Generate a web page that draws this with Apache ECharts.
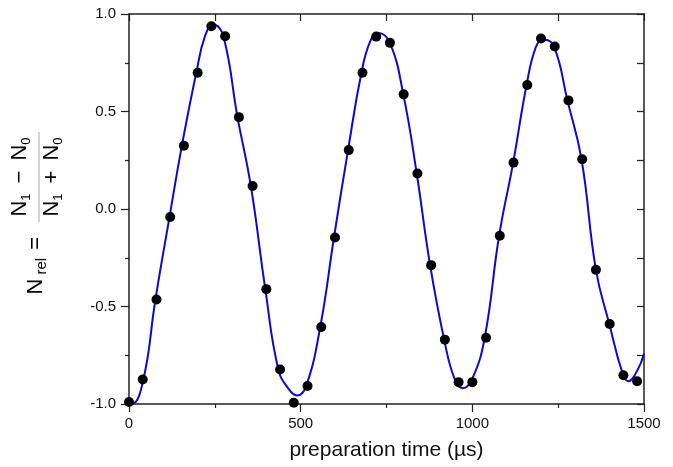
<!DOCTYPE html>
<html>
<head>
<meta charset="utf-8">
<title>Ramsey fringes</title>
<script src="https://cdn.jsdelivr.net/npm/echarts@6/dist/echarts.min.js"></script>
<style>
    html, body { margin: 0; padding: 0; background: #fff; }
    #chart { width: 673px; height: 467px; }
</style>
</head>
<body>
<div id="chart"></div>
<script>
// measured points (preparation time in µs, N_rel)
var prepTime = [0, 40, 80, 120, 160, 200, 240, 280, 320, 360, 400, 440, 480, 520, 560, 600, 640, 680, 720, 760,
    800, 840, 880, 920, 960, 1000, 1040, 1080, 1120, 1160, 1200, 1240, 1280, 1320, 1360, 1400, 1440, 1480];
var nRel = [-0.99, -0.874, -0.464, -0.041, 0.325, 0.699, 0.937, 0.886, 0.471, 0.118, -0.411, -0.823, -0.994, -0.908,
    -0.605, -0.146, 0.302, 0.699, 0.884, 0.852, 0.588, 0.182, -0.288, -0.670, -0.888, -0.888, -0.660, -0.137,
    0.238, 0.636, 0.874, 0.833, 0.557, 0.255, -0.312, -0.590, -0.853, -0.883];

// fit curve
var fitTime = [0, 10, 42, 77, 118, 154, 196, 222, 246, 275, 316, 355, 397, 435, 466, 489, 516, 557, 597, 638, 677,
    703, 726, 760, 799, 838, 877, 918, 948, 972, 1000, 1036, 1078, 1119, 1158, 1185, 1207, 1238, 1277, 1318, 1360,
    1399, 1438, 1454, 1480, 1500];
var fitValue = [-0.992, -0.997, -0.874, -0.464, -0.041, 0.325, 0.699, 0.89, 0.946, 0.886, 0.471, 0.118, -0.411,
    -0.823, -0.925, -0.956, -0.908, -0.605, -0.146, 0.302, 0.699, 0.862, 0.903, 0.852, 0.588, 0.182, -0.288, -0.670,
    -0.87, -0.919, -0.87, -0.660, -0.137, 0.238, 0.636, 0.83, 0.869, 0.833, 0.557, 0.255, -0.312, -0.590, -0.845,
    -0.883, -0.83, -0.742];

var xTicks = { min: 0, max: 1500, major: 500, frame: 250 };
var yTicks = { min: -1, max: 1, major: 0.5, frame: 0.25 };

var FONT = 'Liberation Sans, Arial, Helvetica, sans-serif';
var INK = '#222';

function zip(a, b) {
    var out = [];
    for (var i = 0; i < a.length; i++) {
        out.push([a[i], b[i]]);
    }
    return out;
}

var chart = echarts.init(document.getElementById('chart'));

// rich styles for the rotated y-axis title
var rich = {
    n: { fontSize: 22, fontFamily: FONT, color: '#111', lineHeight: 26, verticalAlign: 'middle' },
    s: { fontSize: 13, fontFamily: FONT, color: '#111', lineHeight: 20, verticalAlign: 'bottom' },
    r: { fontSize: 15, fontFamily: FONT, color: '#111', lineHeight: 9, verticalAlign: 'bottom', padding: [0, 0, 0, 4] },
    op: { fontSize: 22, fontFamily: FONT, color: '#111', lineHeight: 26, verticalAlign: 'middle', padding: [0, 10, 0, 10] },
    eq: { fontSize: 22, fontFamily: FONT, color: '#111', lineHeight: 26, verticalAlign: 'middle', padding: [0, 0, 0, 8] }
};

chart.setOption({
    backgroundColor: '#fff',
    animation: false,
    grid: { left: 129, right: 29, top: 14, bottom: 63 },
    xAxis: [{
        type: 'value',
        position: 'bottom',
        min: xTicks.min,
        max: xTicks.max,
        interval: xTicks.major,
        name: 'preparation time (µs)',
        nameLocation: 'middle',
        nameGap: 36,
        nameTextStyle: { fontSize: 21, fontFamily: FONT, color: '#111' },
        axisLine: { onZero: false, lineStyle: { color: INK, width: 1.5 } },
        axisTick: { inside: false, length: 8, lineStyle: { color: INK, width: 1.2 } },
        minorTick: { show: true, splitNumber: 2, length: 4, lineStyle: { color: INK, width: 1.2 } },
        axisLabel: {
            margin: 12, fontSize: 15, fontFamily: FONT, color: '#111',
            formatter: function(v) { return String(v); }
        },
        splitLine: { show: false }
    }, {
        type: 'value',
        position: 'top',
        min: xTicks.min,
        max: xTicks.max,
        interval: xTicks.frame,
        axisLine: { show: true, onZero: false, lineStyle: { color: INK, width: 1.5 } },
        axisTick: { inside: true, length: 7, lineStyle: { color: INK, width: 1.2 } },
        axisLabel: { show: false },
        splitLine: { show: false }
    }],
    yAxis: [{
        type: 'value',
        position: 'left',
        min: yTicks.min,
        max: yTicks.max,
        interval: yTicks.major,
        axisLine: { show: true, onZero: false, lineStyle: { color: INK, width: 1.5 } },
        axisTick: { show: true, inside: false, length: 8, lineStyle: { color: INK, width: 1.2 } },
        minorTick: { show: true, splitNumber: 2, length: 4, lineStyle: { color: INK, width: 1.2 } },
        axisLabel: {
            margin: 13, fontSize: 15, fontFamily: FONT, color: '#111',
            formatter: function(v) { return v.toFixed(1); }
        },
        splitLine: { show: false }
    }, {
        type: 'value',
        position: 'right',
        min: yTicks.min,
        max: yTicks.max,
        interval: yTicks.frame,
        axisLine: { show: true, onZero: false, lineStyle: { color: INK, width: 1.5 } },
        axisTick: { show: true, inside: true, length: 7, lineStyle: { color: INK, width: 1.2 } },
        axisLabel: { show: false },
        splitLine: { show: false }
    }],
    graphic: [{
        type: 'group',
        x: 39,
        y: 177,
        rotation: Math.PI / 2,
        children: [{
            type: 'line',
            shape: { x1: -45, y1: 0, x2: 45, y2: 0 },
            style: { stroke: '#aaa', lineWidth: 1 }
        }, {
            type: 'text',
            x: 0,
            y: -19,
            style: {
                text: '{n|N}{s|1}{op|−}{n|N}{s|0}', rich: rich,
                align: 'center', verticalAlign: 'middle', textAlign: 'center', textVerticalAlign: 'middle'
            }
        }, {
            type: 'text',
            x: 0,
            y: 13,
            style: {
                text: '{n|N}{s|1}{op|+}{n|N}{s|0}', rich: rich,
                align: 'center', verticalAlign: 'middle', textAlign: 'center', textVerticalAlign: 'middle'
            }
        }, {
            type: 'text',
            x: -60,
            y: -3,
            style: {
                text: '{n|N}{r|rel}{eq|=}', rich: rich,
                align: 'right', verticalAlign: 'middle', textAlign: 'right', textVerticalAlign: 'middle'
            }
        }]
    }],
    series: [{
        name: 'fit',
        type: 'line',
        data: zip(fitTime, fitValue),
        smooth: 0.45,
        showSymbol: false,
        symbol: 'none',
        lineStyle: { color: '#0a0ad2', width: 2 },
        z: 2
    }, {
        name: 'data',
        type: 'scatter',
        data: zip(prepTime, nRel),
        symbolSize: 10,
        clip: false,
        itemStyle: { color: '#000', opacity: 1 },
        z: 3
    }]
});
</script>
</body>
</html>
